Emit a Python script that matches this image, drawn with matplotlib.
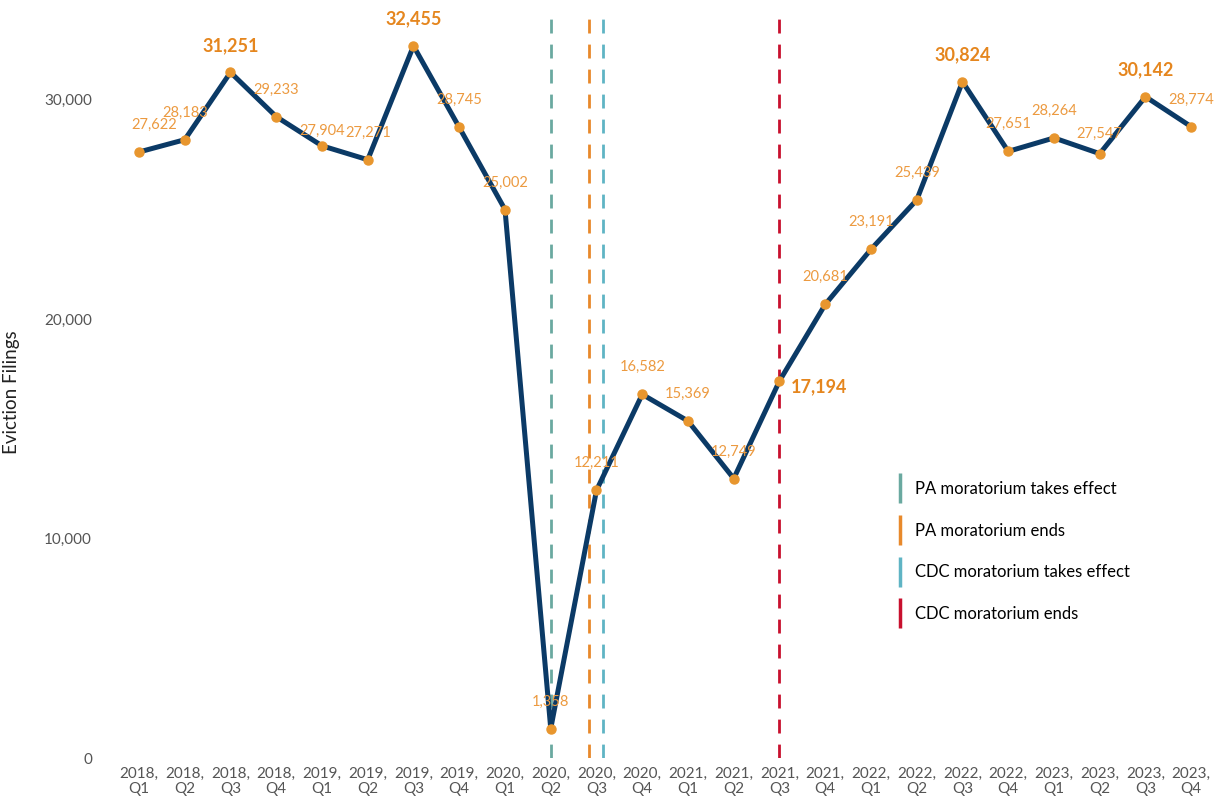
import matplotlib.pyplot as plt
from matplotlib.lines import Line2D
import numpy as np

plt.rcParams['font.family'] = ['Lato', 'DejaVu Sans']

# Quarterly eviction filings, 2018 Q1 - 2023 Q4
quarters = ["2018,\nQ1", "2018,\nQ2", "2018,\nQ3", "2018,\nQ4",
            "2019,\nQ1", "2019,\nQ2", "2019,\nQ3", "2019,\nQ4",
            "2020,\nQ1", "2020,\nQ2", "2020,\nQ3", "2020,\nQ4",
            "2021,\nQ1", "2021,\nQ2", "2021,\nQ3", "2021,\nQ4",
            "2022,\nQ1", "2022,\nQ2", "2022,\nQ3", "2022,\nQ4",
            "2023,\nQ1", "2023,\nQ2", "2023,\nQ3", "2023,\nQ4"]
filings = [27622, 28183, 31251, 29233, 27904, 27271, 32455, 28745,
           25002, 1358, 12211, 16582, 15369, 12749, 17194, 20681,
           23191, 25439, 30824, 27651, 28264, 27547, 30142, 28774]
# highlighted labels (peaks and the CDC end point)
highlight = [2, 6, 14, 18, 22]

# moratorium events (position in quarter index units)
event_names = ["PA moratorium takes effect", "PA moratorium ends",
               "CDC moratorium takes effect", "CDC moratorium ends"]
event_pos = [9.0, 9.83, 10.14, 14.0]
event_colors = ["#6aa9a0", "#e8892b", "#5fb4c4", "#c8102e"]

line_color = "#0b3a66"
dot_color = "#e8962e"
label_color = "#ec9a40"
bold_color = "#e5861e"

x = np.arange(len(quarters))

fig = plt.figure(figsize=(12.19, 8), dpi=100)
ax = fig.add_axes([0.096, 0.052, 0.9, 0.933])

for pos, c in zip(event_pos, event_colors):
    ax.axvline(pos, color=c, lw=2, ls=(0, (5, 4)), zorder=1)

ax.plot(x, filings, color=line_color, lw=3.6, zorder=2, solid_capstyle='round')
ax.plot(x, filings, 'o', color=dot_color, ms=6.5, zorder=3)

# value labels
for i, v in enumerate(filings):
    txt = f"{v:,}"
    dx, dy = 0, 19.5
    if i == 0:
        dx = 11
    if i == 4:
        dy = 11
    if i == 21:
        dy = 14
    if i == 14:
        ax.annotate(txt, (i, v), xytext=(8, -4), textcoords='offset points',
                    ha='left', va='center', fontsize=13, fontweight='bold', color=bold_color)
        continue
    if i in highlight:
        ax.annotate(txt, (i, v), xytext=(dx, dy), textcoords='offset points',
                    ha='center', va='center', fontsize=13, fontweight='bold', color=bold_color)
    else:
        ax.annotate(txt, (i, v), xytext=(dx, dy), textcoords='offset points',
                    ha='center', va='center', fontsize=10.5, color=label_color)

ax.set_xlim(-0.48, 23.5)
ax.set_ylim(0, 34000)
ax.set_xticks(x)
ax.set_xticklabels(quarters, fontsize=11, color="#555555", linespacing=1.1)
ax.set_yticks([0, 10000, 20000, 30000])
ax.set_yticklabels(["0", "10,000", "20,000", "30,000"], fontsize=11, color="#555555")
ax.tick_params(length=0, axis='y', pad=18)
ax.tick_params(length=0, axis='x', pad=6)
ax.set_ylabel("Eviction Filings", fontsize=13.5, color="#222222")
ax.yaxis.set_label_coords(-0.088, 0.49)
for s in ax.spines.values():
    s.set_visible(False)

handles = [Line2D([0], [0], marker='|', color=c, ls='none', ms=22, mew=2.5)
           for c in event_colors]
ax.legend(handles, event_names, loc='upper left', bbox_to_anchor=(0.694, 0.392),
          frameon=False, fontsize=12, labelspacing=1.55, handlelength=0.8,
          handletextpad=0.5)

fig.savefig("out.png", dpi=100)
